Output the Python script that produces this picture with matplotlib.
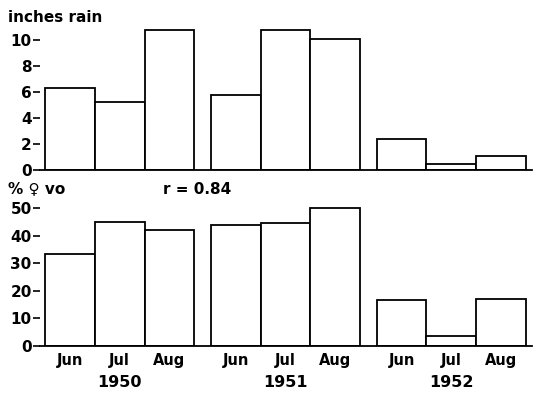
import numpy as np
import matplotlib
matplotlib.use("Agg")
import matplotlib.pyplot as plt
from matplotlib.transforms import blended_transform_factory

# data
years = ["1950", "1951", "1952"]
months = ["Jun", "Jul", "Aug"]
rain = [6.3, 5.2, 10.8, 5.8, 10.8, 10.1, 2.35, 0.45, 1.1]   # inches rain
pct_vo = [33.3, 45.2, 42.1, 43.9, 44.7, 50.3, 16.8, 3.6, 17.0]  # % female vo
r_text = "r = 0.84"

GAP = 0.33
x = np.array([g * (3 + GAP) + i for g in range(3) for i in range(3)], float)
xc = x + 0.5

plt.rcParams["font.family"] = ["DejaVu Sans"]
plt.rcParams["font.weight"] = "bold"

fig = plt.figure(figsize=(5.5, 3.96), dpi=100)
ax1 = fig.add_axes([0.0727, 0.5707, 0.8937, 0.3611])
ax2 = fig.add_axes([0.0727, 0.1263, 0.8937, 0.3611])


def style(ax, ymax, yticks):
    ax.set_xlim(-0.1, 9.77)
    ax.set_ylim(0, ymax)
    for s in ("top", "right", "left"):
        ax.spines[s].set_visible(False)
    ax.spines["bottom"].set_linewidth(1.3)
    ax.set_yticks(yticks)
    ax.tick_params(axis="y", length=5, width=1.2, pad=1, labelsize=11)
    ax.set_facecolor("none")


ax1.bar(x, rain, width=1.0, align="edge", facecolor="white", edgecolor="black", lw=1.3)
style(ax1, 11, [0, 2, 4, 6, 8, 10])
ax1.set_xticks([])

ax2.bar(x, pct_vo, width=1.0, align="edge", facecolor="white", edgecolor="black", lw=1.3)
style(ax2, 52, [0, 10, 20, 30, 40, 50])
ax2.set_xticks(xc)
ax2.set_xticklabels(months * 3, fontsize=10.5)
ax2.tick_params(axis="x", length=0, pad=5)

tr = blended_transform_factory(ax2.transData, ax2.transAxes)
for g, yr in enumerate(years):
    ax2.text(xc[g * 3 + 1], -0.255, yr, transform=tr, ha="center", va="center", fontsize=11.5)

fig.text(8 / 550, 1 - 17 / 396, "inches rain", ha="left", va="center", fontsize=11)
fig.text(8 / 550, 1 - 189 / 396, "% \u2640 vo", ha="left", va="center", fontsize=11)
fig.text(163 / 550, 1 - 189 / 396, r_text, ha="left", va="center", fontsize=11)

fig.savefig("out.png", dpi=100)
